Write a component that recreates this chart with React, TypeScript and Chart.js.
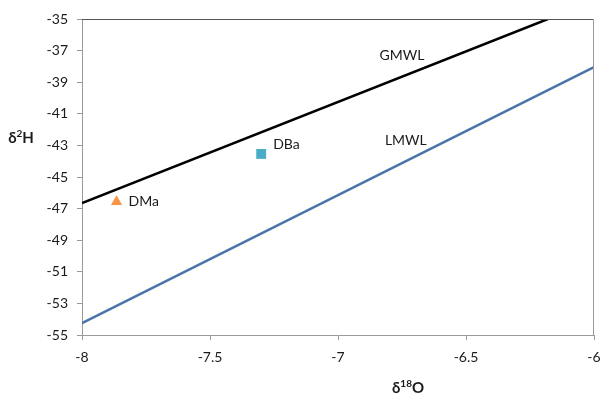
import React, { useEffect, useRef } from "react";
import { Chart, registerables } from "chart.js";

Chart.register(...registerables);

const gmwlX = [-8, -6.18];
const gmwlY = [-46.65, -35.0];
const lmwlX = [-8, -6];
const lmwlY = [-54.25, -38.05];
const sampleNames = ["DMa", "DBa"];
const sampleX = [-7.865, -7.3];
const sampleY = [-46.56, -43.54];
const lineLabels = ["GMWL", "LMWL"];
const lineLabelX = [-6.75, -6.735];
const lineLabelY = [-37.34, -42.66];
const yTicks = [-35, -37, -39, -41, -43, -45, -47, -49, -51, -53, -55];
const xTicks = [-8, -7.5, -7, -6.5, -6];

const FONT = "Lato, 'Open Sans', sans-serif";

export default function App() {
  const ref = useRef<HTMLCanvasElement>(null);
  useEffect(() => {
    if (!ref.current) return;
    const labelPlugin = {
      id: "labels",
      afterDatasetsDraw(chart: any) {
        const { ctx, scales, chartArea } = chart;
        const xs = scales.x, ys = scales.y;
        ctx.save();
        ctx.strokeStyle = "#555";
        ctx.lineWidth = 1;
        ctx.beginPath();
        ctx.moveTo(chartArea.left, chartArea.top + 0.5);
        ctx.lineTo(chartArea.right, chartArea.top + 0.5);
        ctx.stroke();
        ctx.strokeStyle = "#9a9a9a";
        ctx.beginPath();
        ctx.moveTo(chartArea.right - 0.5, chartArea.top);
        ctx.lineTo(chartArea.right - 0.5, chartArea.bottom);
        ctx.stroke();

        ctx.fillStyle = "#1a1a1a";
        ctx.font = `14px ${FONT}`;
        ctx.textBaseline = "middle";
        ctx.textAlign = "center";
        lineLabels.forEach((t, i) => {
          ctx.fillText(t, xs.getPixelForValue(lineLabelX[i]), ys.getPixelForValue(lineLabelY[i]));
        });
        ctx.textAlign = "left";
        sampleNames.forEach((t, i) => {
          const px = xs.getPixelForValue(sampleX[i]) + 12;
          const py = ys.getPixelForValue(sampleY[i]) - (i === 1 ? 9 : 0);
          ctx.fillText(t, px, py);
        });

        const drawSup = (parts: [string, boolean][], cx: number, cy: number) => {
          const big = `bold 15px ${FONT}`;
          const small = `bold 10px ${FONT}`;
          let w = 0;
          parts.forEach(([s, sup]) => {
            ctx.font = sup ? small : big;
            w += ctx.measureText(s).width;
          });
          let x = cx - w / 2;
          ctx.textAlign = "left";
          ctx.textBaseline = "alphabetic";
          parts.forEach(([s, sup]) => {
            ctx.font = sup ? small : big;
            ctx.fillText(s, x, sup ? cy - 1 : cy + 5);
            x += ctx.measureText(s).width;
          });
        };
        drawSup([["δ", false], ["2", true], ["H", false]], 21, 138);
        drawSup([["δ", false], ["18", true], ["O", false]], 408, 388);
        ctx.restore();
      },
    };

    const chart = new Chart(ref.current, {
      type: "scatter",
      data: {
        datasets: [
          {
            type: "line",
            data: gmwlX.map((x, i) => ({ x, y: gmwlY[i] })),
            borderColor: "#000000",
            borderWidth: 2.5,
            pointRadius: 0,
            showLine: true,
          },
          {
            type: "line",
            data: lmwlX.map((x, i) => ({ x, y: lmwlY[i] })),
            borderColor: "#4a72a8",
            borderWidth: 2.5,
            pointRadius: 0,
            showLine: true,
          },
          {
            data: [{ x: sampleX[0], y: sampleY[0] }],
            pointStyle: "triangle",
            pointRadius: 6.5,
            backgroundColor: "#f79646",
            borderColor: "#f79646",
            borderWidth: 0,
          },
          {
            data: [{ x: sampleX[1], y: sampleY[1] }],
            pointStyle: "rect",
            pointRadius: 7,
            backgroundColor: "#4bacc6",
            borderColor: "#4bacc6",
            borderWidth: 0,
          },
        ],
      } as any,
      options: {
        animation: false,
        responsive: true,
        maintainAspectRatio: false,
        layout: { padding: { left: 0, top: 19, right: 8, bottom: 0 } },
        plugins: { legend: { display: false }, tooltip: { enabled: false } },
        scales: {
          x: {
            type: "linear",
            min: -8,
            max: -6,
            afterBuildTicks: (s: any) => {
              s.ticks = xTicks.map((v) => ({ value: v }));
            },
            afterFit: (s: any) => {
              s.height = 61;
              s.paddingLeft = 0;
              s.paddingRight = 0;
            },
            ticks: {
              font: { family: FONT, size: 14 },
              color: "#1a1a1a",
              padding: 9,
              maxRotation: 0,
              callback: (v: any) => String(v),
            },
            grid: { drawOnChartArea: false, drawTicks: true, tickLength: 5, color: "#9a9a9a" },
            border: { display: true, color: "#9a9a9a" },
          },
          y: {
            type: "linear",
            min: -55,
            max: -35,
            afterBuildTicks: (s: any) => {
              s.ticks = yTicks.map((v) => ({ value: v }));
            },
            afterFit: (s: any) => {
              s.width = 82;
              s.paddingTop = 0;
              s.paddingBottom = 0;
            },
            ticks: {
              font: { family: FONT, size: 14 },
              color: "#1a1a1a",
              padding: 9,
              callback: (v: any) => String(v),
            },
            grid: { drawOnChartArea: false, drawTicks: true, tickLength: 5, color: "#9a9a9a" },
            border: { display: true, color: "#9a9a9a" },
          },
        },
      } as any,
      plugins: [labelPlugin],
    });
    return () => chart.destroy();
  }, []);

  return (
    <div style={{ position: "absolute", left: 0, top: 0, width: 602, height: 396, background: "#fff" }}>
      <canvas ref={ref} />
    </div>
  );
}
